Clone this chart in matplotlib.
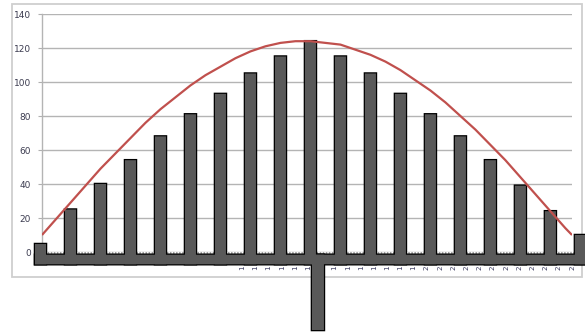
import numpy as np
import matplotlib
matplotlib.use("Agg")
import matplotlib.pyplot as plt
from matplotlib.patches import Rectangle

# Column heights, one per category
bar_values = [4.7, 25, 40, 54, 68, 81, 93, 105, 115, 124, 115, 105, 93, 81, 68, 54, 39, 24, 10]

# Trend curve sampled along the category axis
curve_x = [0.05, 0.5, 1, 1.5, 2, 2.5, 3, 3.5, 4, 4.5, 5, 5.5, 6, 6.5, 7, 7.5, 8, 8.5,
           9, 9.5, 10, 10.5, 11, 11.5, 12, 12.5, 13, 13.5, 14, 14.5, 15, 15.5, 16,
           16.5, 17, 17.5, 17.72]
curve_y = [10, 19, 29, 39, 49, 58, 67, 76, 84, 91, 98, 104, 109, 114, 118, 121, 123, 124,
           124, 123, 122, 119, 116, 112, 107, 101, 95, 88, 80, 72, 63, 54, 44,
           34, 24, 14, 10]

# Base strip under the columns and the drop below it
base_bottom = -7.2
base_top = -1.6
drop_x = 9.25
drop_bottom = -45.9

# Category labels along the horizontal axis
tick_labels = ["1"] * 14 + ["2"] * 12
tick_start = 6.72
tick_step = 0.44

y_ticks = [0, 20, 40, 60, 80, 100, 120, 140]

fig = plt.figure(figsize=(5.85, 3.33), dpi=100)
ax = fig.add_axes([42 / 585, 81 / 333, 530 / 585, 238 / 333])
ax.set_facecolor("none")

# outer chart frame
fig.add_artist(Rectangle((12 / 585, 56 / 333), 570 / 585, 273 / 333,
                         transform=fig.transFigure, fill=False,
                         edgecolor="#cfcfcf", linewidth=1.3, zorder=-5))

ax.set_xlim(0.05, 17.72)
ax.set_ylim(0, 140)
ax.set_yticks(y_ticks)
ax.set_yticklabels([str(v) for v in y_ticks], fontsize=6.5, color="#3c3c50")
ax.set_xticks([])
ax.tick_params(axis="y", length=3, color="#b0b0b0", pad=5)
for s in ["top", "right", "bottom"]:
    ax.spines[s].set_visible(False)
ax.spines["left"].set_color("#b4b4b4")
ax.spines["left"].set_linewidth(1.0)
ax.yaxis.grid(True, color="#b4b4b4", linewidth=1.0)
ax.set_axisbelow(True)

cats = np.arange(len(bar_values))
w = 11 / 30
face = "#595959"

# dense axis ticks along zero
ax.plot([-0.2, 18.2], [-0.8, -0.8], color="#a0a0a0", linewidth=2.2,
        linestyle=(0, (0.5, 0.5)), clip_on=False, zorder=1)

# category labels peeking below the base strip
for k, lab in enumerate(tick_labels):
    ax.text(tick_start + k * tick_step, -8.0, lab, rotation=90, ha="center",
            va="top", fontsize=5.2, color="#3c3c60", clip_on=False, zorder=1)

def draw_shapes(edge, lw, z):
    kw = dict(color=face, edgecolor=edge, linewidth=lw, clip_on=False, zorder=z)
    groups = [
        ax.bar(cats, np.array(bar_values) - base_bottom, width=w, bottom=base_bottom, **kw),
        ax.bar([9], [base_top - base_bottom], width=18 + w, bottom=base_bottom, **kw),
        ax.bar([drop_x], [base_top - drop_bottom], width=0.4, bottom=drop_bottom, **kw),
    ]
    for g in groups:
        for p in g:
            p.set_snap(False)
            p.set_antialiased(True)

# outlined pass, then a fill pass on top so only the outer contour stays
draw_shapes("black", 1.8, 3)
draw_shapes("none", 0, 4)

ax.plot(curve_x, curve_y, color="#c0504d", linewidth=1.6, zorder=6,
        solid_capstyle="butt")

fig.savefig("out.png", dpi=100)
